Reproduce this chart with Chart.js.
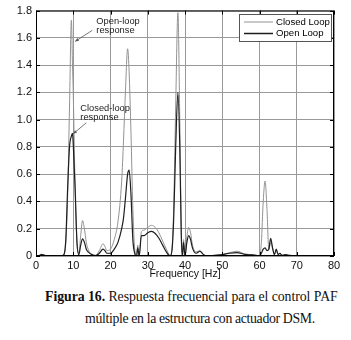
<!DOCTYPE html>
<html>
<head>
<meta charset="utf-8">
<script src="https://cdn.jsdelivr.net/npm/chart.js@4"></script>
<style>
  body { margin: 0; background: #fff; }
  #wrap { position: relative; width: 351px; height: 285px; }
  .cap { position: absolute; white-space: nowrap;
         font-family: "Liberation Serif", "DejaVu Serif", serif; font-size: 13.8px; color: #111; }
</style>
</head>
<body>
<div id="wrap"><canvas id="myChart" width="351" height="285"></canvas></div>
<div class="cap" style="top:289px; left:45px; letter-spacing:-0.05px"><b>Figura 16.</b> Respuesta frecuencial para el control PAF</div>
<div class="cap" style="top:311px; left:85px; letter-spacing:-0.35px">múltiple en la estructura con actuador DSM.</div>
<script>
// frequency grid [Hz]
var freq = [0, 1, 1.5, 2, 3, 5, 7, 7.5, 8, 8.5, 9, 9.5, 9.8, 10, 10.5, 11, 11.5, 12, 12.5, 13, 13.5, 14, 15, 16, 17, 18, 18.5, 19, 20,
  21, 22, 23, 23.5, 24, 24.6, 25, 25.5, 26, 26.5, 27, 27.3, 27.7, 28.3, 29, 30, 31, 32, 33, 34, 35, 36, 36.5, 37, 37.5, 38.1, 38.6,
  39, 39.3, 39.6, 40, 40.5, 41, 41.5, 42, 43, 44, 45, 46, 48, 50, 52, 54, 56, 58, 59, 60, 60.5, 61, 61.5, 62, 62.5, 63, 63.5,
  64, 64.5, 65, 65.5, 66, 67, 68, 70, 72, 75, 80];

// light grey curve
var closedLoop = [0, 0.005, 0.012, 0.008, 0, 0, 0.002, 0.01, 0.1, 0.45, 1.1, 1.73, 1.4, 1.2, 0.5, 0.1, 0.02, 0.15, 0.26, 0.2, 0.1, 0.05, 0.01, 0.005, 0.04, 0.09, 0.07, 0.04, 0.05,
  0.12, 0.25, 0.55, 0.85, 1.2, 1.52, 1.35, 0.9, 0.35, 0.05, 0, 0.08, 0, 0.18, 0.19, 0.21, 0.225, 0.21, 0.17, 0.11, 0.05, 0.005, 0.05, 0.4, 1.1, 1.785, 1.0,
  0.2, 0, 0.12, 0, 0.14, 0.21, 0.17, 0.08, 0.03, 0.04, 0.01, 0, 0.005, 0.01, 0.025, 0.035, 0.015, 0.01, 0.005, 0, 0.1, 0.4, 0.55, 0.35, 0.05, 0.1, 0.06,
  0.01, 0.04, 0.01, 0.02, 0.005, 0.01, 0.005, 0.003, 0, 0, 0];

// black curve
var openLoop = [0, 0.005, 0.012, 0.008, 0, 0, 0.002, 0.01, 0.12, 0.5, 0.8, 0.88, 0.9, 0.82, 0.5, 0.1, 0.01, 0.08, 0.125, 0.1, 0.05, 0.03, 0.01, 0.003, 0.02, 0.05, 0.04, 0.02, 0.02,
  0.05, 0.1, 0.2, 0.28, 0.42, 0.6, 0.63, 0.45, 0.12, 0.02, 0, 0.06, 0, 0.15, 0.15, 0.17, 0.18, 0.165, 0.13, 0.08, 0.03, 0, 0.04, 0.3, 0.8, 1.2, 0.8,
  0.15, 0, 0.1, 0, 0.1, 0.15, 0.12, 0.06, 0.02, 0.035, 0.01, 0, 0.005, 0.01, 0.02, 0.025, 0.012, 0.008, 0.005, 0, 0.02, 0.05, 0.06, 0.04, 0.05, 0.13, 0.06,
  0.01, 0.05, 0.01, 0.02, 0.005, 0.01, 0.005, 0.003, 0, 0, 0];

var xTicks = [0, 10, 20, 30, 40, 50, 60, 70, 80];
var yTicks = [0, 0.2, 0.4, 0.6, 0.8, 1, 1.2, 1.4, 1.6, 1.8];
var seriesNames = ['Closed Loop', 'Open Loop'];
var seriesColors = ['#929292', '#1e1e1e'];

function pts(ys) {
  return freq.map(function (f, i) { return {x: f, y: ys[i]}; });
}

var framePlugin = {
  id: 'frame',
  afterDraw: function (chart) {
    var c = chart.ctx, a = chart.chartArea;
    var xs = chart.scales.x, ys = chart.scales.y;
    c.save();
    c.strokeStyle = '#000';
    c.lineWidth = 1;
    c.strokeRect(a.left + 0.5, a.top + 0.5, a.right - a.left - 1, a.bottom - a.top - 1);
    c.beginPath();
    xTicks.forEach(function (t) {
      var px = Math.round(xs.getPixelForValue(t)) + 0.5;
      c.moveTo(px, a.bottom); c.lineTo(px, a.bottom - 4);
      c.moveTo(px, a.top); c.lineTo(px, a.top + 4);
    });
    yTicks.forEach(function (t) {
      var py = Math.round(ys.getPixelForValue(t)) + 0.5;
      c.moveTo(a.left, py); c.lineTo(a.left + 4, py);
      c.moveTo(a.right, py); c.lineTo(a.right - 4, py);
    });
    c.stroke();

    // legend box
    var lx = 239, ly = 14, lw = 92, lh = 27;
    c.fillStyle = '#fff';
    c.fillRect(lx, ly, lw, lh);
    c.strokeStyle = '#555';
    c.strokeRect(lx + 0.5, ly + 0.5, lw, lh);
    c.font = '9.6px "Liberation Sans", Arial, sans-serif';
    c.textBaseline = 'middle';
    c.textAlign = 'left';
    seriesNames.forEach(function (n, i) {
      var yy = ly + 8 + i * 11.5;
      c.strokeStyle = seriesColors[i];
      c.lineWidth = i === 0 ? 1 : 1.5;
      c.beginPath(); c.moveTo(lx + 5, yy); c.lineTo(lx + 34, yy); c.stroke();
      c.fillStyle = '#000';
      c.fillText(n, lx + 37, yy);
    });

    // annotations
    c.font = '9.3px "Liberation Sans", Arial, sans-serif';
    c.fillStyle = '#222';
    c.strokeStyle = '#555';
    c.lineWidth = 0.8;
    var notes = [
      {lines: ['Open-loop', 'response'], tx: 16.2, ty: 1.72, ax: 15.1, ay: 1.655, bx: 10.5, by: 1.574},
      {lines: ['Closed-loop', 'response'], tx: 11.9, ty: 1.086, ax: 13.5, ay: 0.977, bx: 10.0, by: 0.897}
    ];
    notes.forEach(function (n) {
      var px = xs.getPixelForValue(n.tx), py = ys.getPixelForValue(n.ty);
      n.lines.forEach(function (s, k) { c.fillText(s, px, py + k * 9); });
      var x1 = xs.getPixelForValue(n.ax), y1 = ys.getPixelForValue(n.ay);
      var x2 = xs.getPixelForValue(n.bx), y2 = ys.getPixelForValue(n.by);
      c.beginPath(); c.moveTo(x1, y1); c.lineTo(x2, y2); c.stroke();
      var ang = Math.atan2(y2 - y1, x2 - x1);
      c.beginPath();
      c.moveTo(x2, y2);
      c.lineTo(x2 - 4 * Math.cos(ang - 0.4), y2 - 4 * Math.sin(ang - 0.4));
      c.lineTo(x2 - 4 * Math.cos(ang + 0.4), y2 - 4 * Math.sin(ang + 0.4));
      c.closePath();
      c.fillStyle = '#555';
      c.fill();
      c.fillStyle = '#222';
    });
    c.restore();
  }
};

var ctx = document.getElementById('myChart').getContext('2d');
var myChart = new Chart(ctx, {
  type: 'line',
  data: {
    datasets: [{
      label: seriesNames[0],
      data: pts(closedLoop),
      borderColor: seriesColors[0],
      borderWidth: 1,
      pointRadius: 0,
      cubicInterpolationMode: 'monotone',
      order: 1
    }, {
      label: seriesNames[1],
      data: pts(openLoop),
      borderColor: seriesColors[1],
      borderWidth: 1.2,
      pointRadius: 0,
      cubicInterpolationMode: 'monotone',
      order: 0
    }]
  },
  options: {
    responsive: false,
    animation: false,
    layout: { padding: { left: 0, top: 9, right: 17, bottom: 0 } },
    plugins: { legend: { display: false }, tooltip: { enabled: false } },
    scales: {
      x: {
        type: 'linear', min: 0, max: 80,
        afterBuildTicks: function (s) { s.ticks = xTicks.map(function (v) { return {value: v}; }); },
        afterFit: function (s) { s.height = 29; },
        grid: { color: '#9a9a9a', borderDash: [1, 2], drawTicks: false },
        border: { display: false },
        ticks: { padding: 3, color: '#111', font: { family: '"Liberation Sans", Arial, sans-serif', size: 11 } },
        title: { display: true, text: 'Frequency [Hz]', color: '#111', padding: { top: 0, bottom: 5 },
                 font: { family: '"Liberation Sans", Arial, sans-serif', size: 10.5 } }
      },
      y: {
        type: 'linear', min: 0, max: 1.8,
        afterBuildTicks: function (s) { s.ticks = yTicks.map(function (v) { return {value: v}; }); },
        afterFit: function (s) { s.width = 36; },
        grid: { color: '#9a9a9a', borderDash: [1, 2], drawTicks: false },
        border: { display: false },
        ticks: { padding: 4, color: '#111', font: { family: '"Liberation Sans", Arial, sans-serif', size: 11 } }
      }
    }
  },
  plugins: [framePlugin]
});
</script>
</body>
</html>
